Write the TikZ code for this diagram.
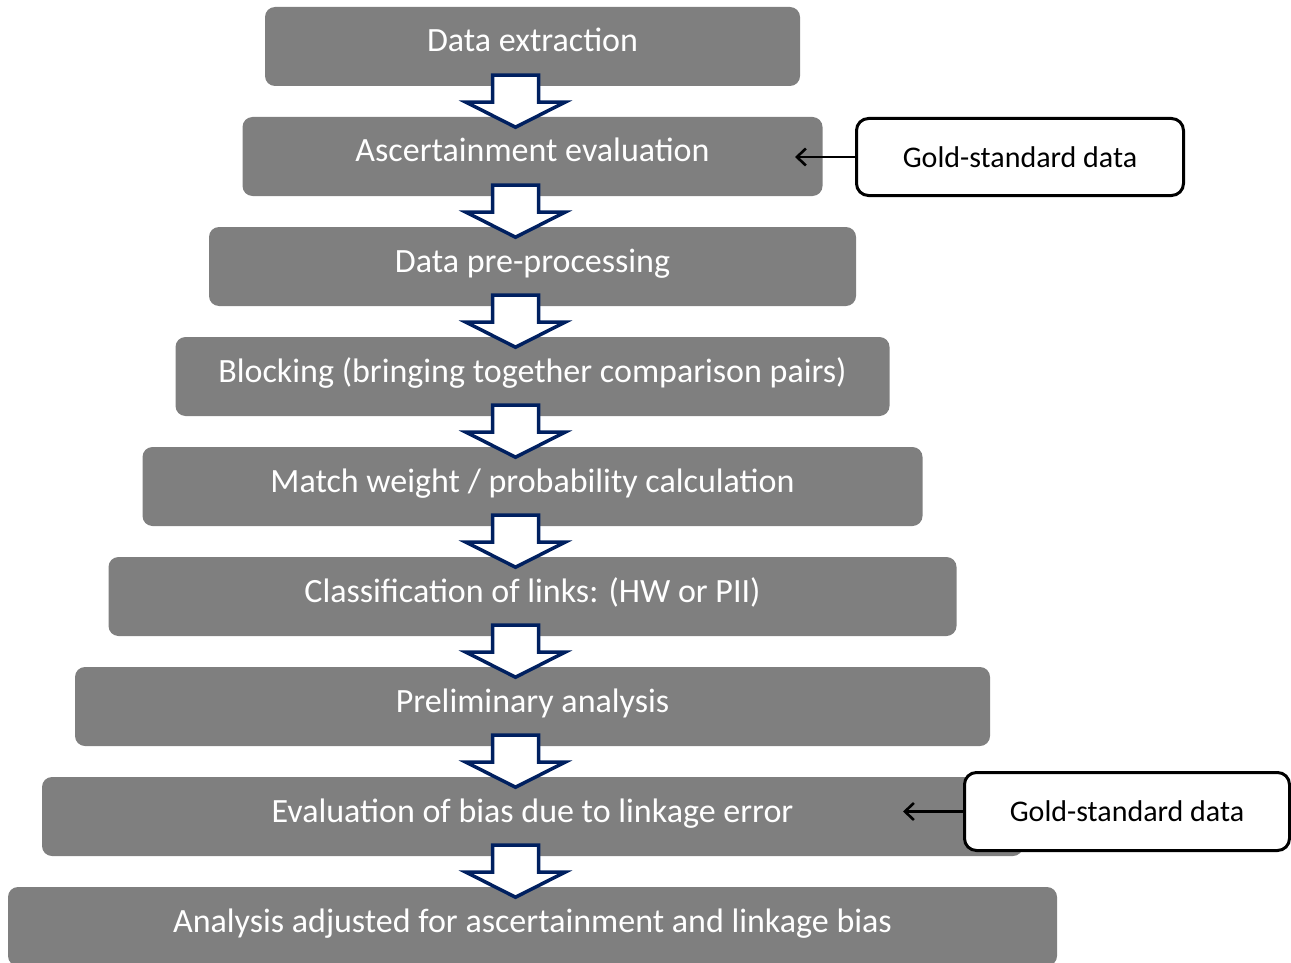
\documentclass[tikz,border=0pt]{standalone}
\usepackage{fontspec}
\setmainfont{Carlito}
\usetikzlibrary{arrows.meta,calc}
\definecolor{boxgray}{RGB}{127,127,127}
\definecolor{navyline}{RGB}{0,32,96}
\begin{document}
\begin{tikzpicture}[x=1pt,y=-1pt,
 graybox/.style={fill=boxgray, rounded corners=10pt, minimum height=79pt, inner sep=0pt, draw=none},
 boxtext/.style={anchor=base, text=white, font=\fontsize{34}{40}\selectfont, inner sep=0pt},
 goldbox/.style={draw=black, line width=3pt, fill=white, rounded corners=12pt, inner sep=0pt, font=\fontsize{30}{36}\selectfont, text=black},
 blockarrow/.style={draw=navyline, fill=white, line width=3.5pt, line join=miter},
 feed/.style={draw=black, line width=2.2pt, -{Straight Barb[length=9pt,width=17pt,line width=2.6pt]}}]
\useasboundingbox (0,0) rectangle (1291,963);
% grey process boxes
\node[graybox, minimum width=535pt]  (b1) at (532.5,46.5) {};
\node[graybox, minimum width=580pt]  (b2) at (532.5,156.5) {};
\node[graybox, minimum width=647pt]  (b3) at (532.5,266.5) {};
\node[graybox, minimum width=714pt]  (b4) at (532.5,376.5) {};
\node[graybox, minimum width=780pt]  (b5) at (532.5,486.5) {};
\node[graybox, minimum width=848pt]  (b6) at (532.5,596.5) {};
\node[graybox, minimum width=915pt]  (b7) at (532.5,706.5) {};
\node[graybox, minimum width=981pt]  (b8) at (532.5,816.5) {};
\node[graybox, minimum width=1049pt] (b9) at (532.5,926.5) {};
% texts
\node[boxtext] (t1) at (532.5,52)  {Data extraction};
\node[boxtext] (t2) at (532.5,162) {Ascertainment evaluation};
\node[boxtext] (t3) at (532.5,272) {Data pre-processing};
\node[boxtext] (t4) at (532.5,382) {Blocking (bringing together comparison pairs)};
\node[boxtext] (t5) at (532.5,492) {Match weight / probability calculation};
\node[boxtext] (t6) at (532.5,602) {Classification of links: (HW or PII)};
\node[boxtext] (t7) at (532.5,712) {Preliminary analysis};
\node[boxtext] (t8) at (532.5,822) {Evaluation of bias due to linkage error};
\node[boxtext] (t9) at (532.5,932) {Analysis adjusted for ascertainment and linkage bias};
% block arrows
\foreach \i in {1,...,8}{
  \draw[blockarrow] ([shift={(-40,-11)}]b\i.south) -- ([shift={(6,-11)}]b\i.south)
    -- ([shift={(6,16)}]b\i.south) -- ([shift={(32.5,16)}]b\i.south)
    -- ([shift={(-17,41)}]b\i.south) -- ([shift={(-66.5,16)}]b\i.south)
    -- ([shift={(-40,16)}]b\i.south) -- cycle;
}
% gold-standard boxes
\node[goldbox, minimum width=327pt, minimum height=77pt] (g1) at (1020,157) {Gold-standard data};
\node[goldbox, minimum width=325pt, minimum height=78pt] (g2) at (1127,811.5) {Gold-standard data};
\coordinate (e1) at (795,157);
\coordinate (e2) at (903,811.5);
\draw[feed] (g1.west) -- (e1);
\draw[feed] (g2.west) -- (e2);
\end{tikzpicture}
\end{document}
